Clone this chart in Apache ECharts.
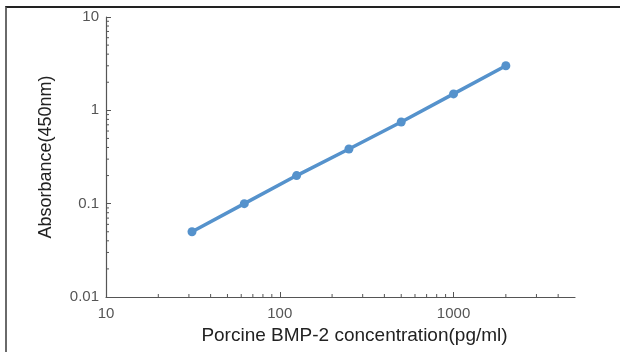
<!DOCTYPE html>
<html>
<head>
<meta charset="utf-8">
<script src="https://cdn.jsdelivr.net/npm/echarts@6/dist/echarts.min.js"></script>
<style>
  html, body { margin: 0; padding: 0; overflow: hidden; background: #fff; }
  #wrap { position: relative; width: 620px; height: 352px; }
  #frame {
    position: absolute; left: 5px; top: 6px; width: 700px; height: 400px;
    border-top: 2px solid #222; border-left: 2px solid #6a6a6a;
  }
  #chart { position: absolute; left: 0; top: 0; width: 620px; height: 352px; }
</style>
</head>
<body>
<div id="wrap">
  <div id="frame"></div>
  <div id="chart"></div>
</div>
<script>
  // standard curve
  const concentration = [31.25, 62.5, 125, 250, 500, 1000, 2000];
  const absorbance = [0.05, 0.1, 0.2, 0.385, 0.75, 1.5, 3.0];

  // axis ranges
  const xRange = [10, 5000];
  const yRange = [0.01, 10];

  // minor ticks, log-spaced like the source plot
  const xMinorTicks = [20, 30, 40, 50, 60, 70, 80, 90, 200, 300, 400, 500, 600, 700, 800, 900, 2000, 3000, 4000];
  const yMinorTicks = [0.02, 0.03, 0.04, 0.05, 0.06, 0.07, 0.08, 0.09, 0.2, 0.3, 0.4, 0.5, 0.6, 0.7, 0.8, 0.9, 2, 3, 4, 5, 6, 7, 8, 9];

  const axisColor = '#555';
  const font = '"Liberation Sans", Arial, sans-serif';

  const chart = echarts.init(document.getElementById('chart'));

  const option = {
    animation: false,
    grid: { left: 106, right: 45, top: 17, bottom: 55 },
    xAxis: {
      type: 'log',
      logBase: 10,
      min: xRange[0],
      max: xRange[1],
      name: 'Porcine BMP-2 concentration(pg/ml)',
      nameLocation: 'middle',
      nameGap: 29,
      nameTextStyle: { fontFamily: font, fontSize: 19, color: '#222', padding: [0, 0, 0, 28] },
      axisLine: { lineStyle: { color: axisColor, width: 1.2 } },
      axisTick: { inside: true, length: 5, lineStyle: { color: axisColor } },
      axisLabel: {
        fontFamily: font, fontSize: 15, color: '#555', margin: 9, showMaxLabel: false,
        formatter: v => String(v)
      },
      splitLine: { show: false },
      minorTick: { show: false }
    },
    yAxis: {
      type: 'log',
      logBase: 10,
      min: yRange[0],
      max: yRange[1],
      name: 'Absorbance(450nm)',
      nameLocation: 'middle',
      nameGap: 51,
      nameTextStyle: { fontFamily: font, fontSize: 18, color: '#222' },
      axisLine: { lineStyle: { color: axisColor, width: 1.2 } },
      axisTick: { inside: true, length: 5, lineStyle: { color: axisColor } },
      axisLabel: {
        fontFamily: font, fontSize: 15, color: '#555', margin: 7,
        formatter: v => String(v)
      },
      splitLine: { show: false }
    },
    series: [
      {
        type: 'custom',
        silent: true,
        clip: false,
        data: xMinorTicks.map(v => [v, yRange[0]]),
        renderItem: (params, api) => {
          const p = api.coord([api.value(0), api.value(1)]);
          return {
            type: 'line',
            shape: { x1: p[0], y1: p[1], x2: p[0], y2: p[1] - 3 },
            style: { stroke: axisColor, lineWidth: 1 }
          };
        }
      },
      {
        type: 'custom',
        silent: true,
        clip: false,
        data: yMinorTicks.map(v => [xRange[0], v]),
        renderItem: (params, api) => {
          const p = api.coord([api.value(0), api.value(1)]);
          return {
            type: 'line',
            shape: { x1: p[0], y1: p[1], x2: p[0] + 3, y2: p[1] },
            style: { stroke: axisColor, lineWidth: 1 }
          };
        }
      },
      {
        type: 'line',
        data: concentration.map((c, i) => [c, absorbance[i]]),
        symbol: 'circle',
        symbolSize: 9,
        lineStyle: { color: '#5592cc', width: 3.5 },
        itemStyle: { color: '#5592cc' }
      }
    ]
  };

  chart.setOption(option);
</script>
</body>
</html>
